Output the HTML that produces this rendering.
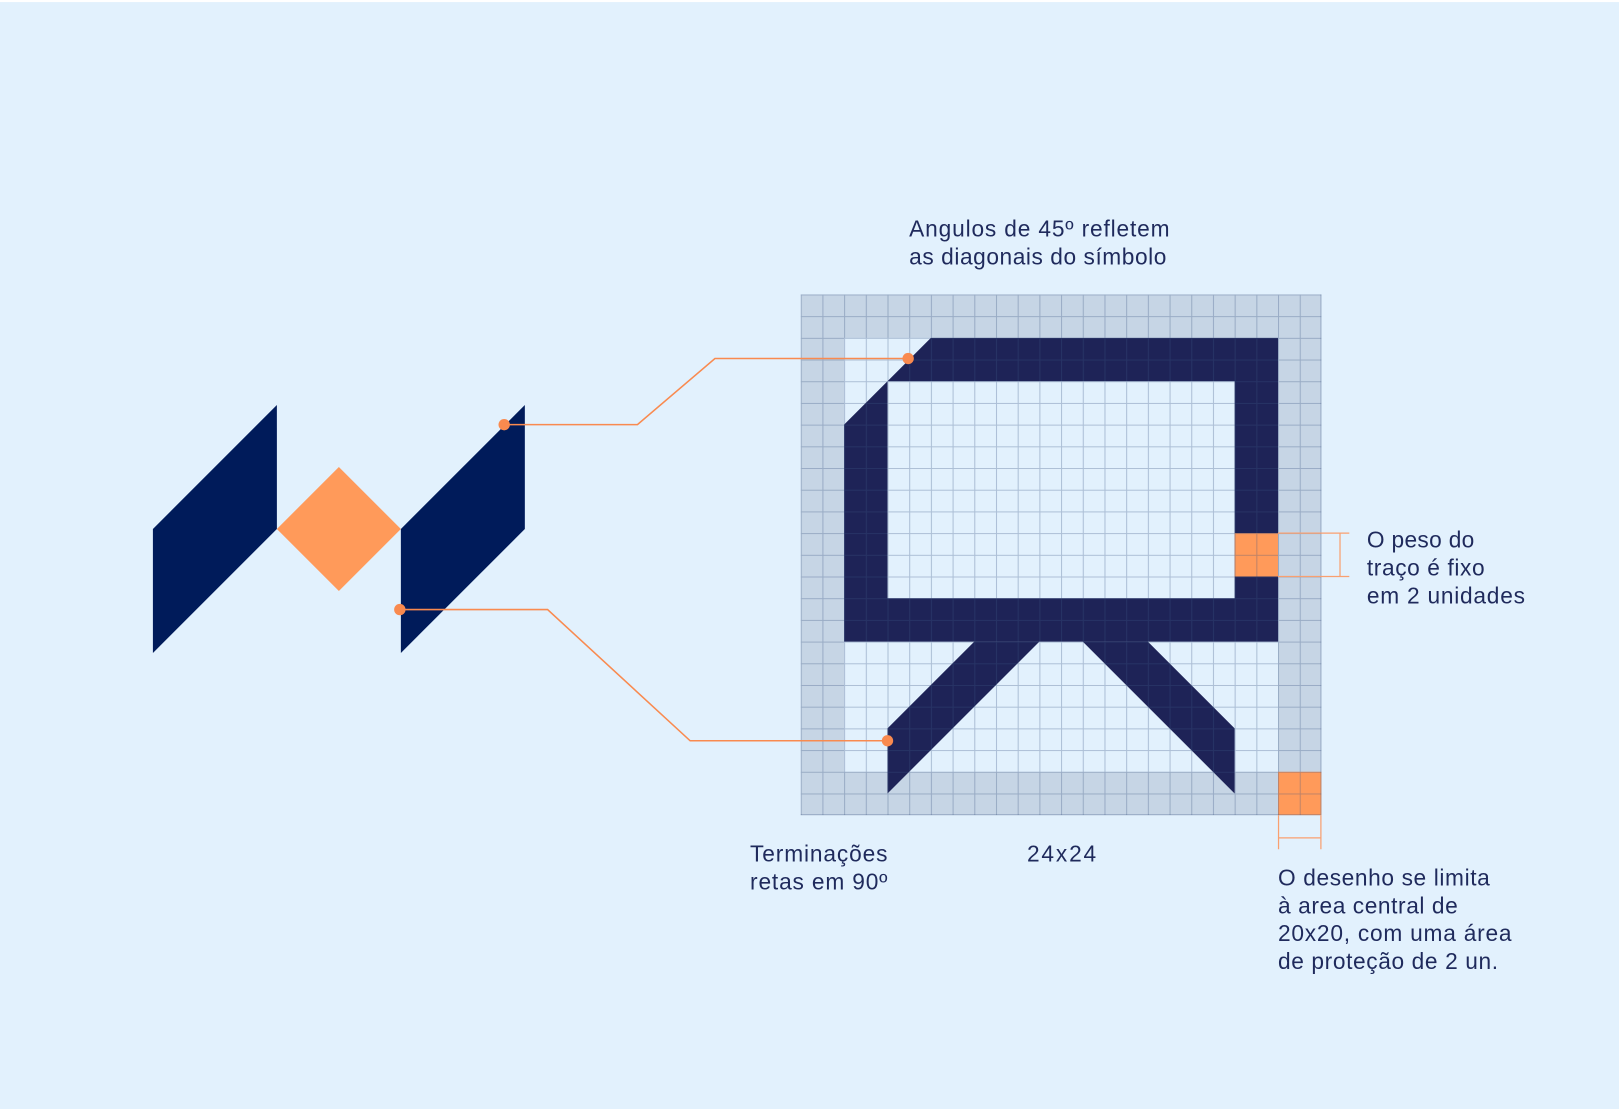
<!DOCTYPE html>
<html><head><meta charset="utf-8"><style>
html,body{margin:0;padding:0;background:#fff;}
svg{display:block;}
text{font-family:"Liberation Sans",sans-serif;font-size:22px;fill:#1f2a5c;}
</style></head><body>
<svg width="1620" height="1109" viewBox="0 0 1568 1073.4" preserveAspectRatio="none" xmlns="http://www.w3.org/2000/svg">
<defs>
<pattern id="g" x="775" y="285" width="21" height="21" patternUnits="userSpaceOnUse">
<path d="M0 0.5H21M0.5 0V21" stroke="rgba(60,85,130,0.32)" stroke-width="1" fill="none"/>
</pattern>
</defs>
<rect x="0" y="2" width="1567" height="1072" fill="#e2f1fd"/>
<rect x="775" y="285" width="504" height="504" fill="#c6d5e5"/>
<rect x="817" y="327" width="420" height="420" fill="#e2f1fd"/>
<path fill-rule="evenodd" fill="#1e2357" d="M901 327H1237V621H817V411Z M859 369V579H1195V369Z"/>
<path fill="#1e2357" d="M1006 621L859 768V705L943 621Z"/>
<path fill="#1e2357" d="M1048 621L1195 768V705L1111 621Z"/>
<rect x="1195" y="516" width="42" height="42" fill="#ff9a5a"/>
<rect x="1237" y="747" width="42" height="42" fill="#ff9a5a"/>
<rect x="775" y="285" width="504" height="504" fill="url(#g)"/>
<path d="M1278.5 285V789M775 788.5H1279" stroke="rgba(60,85,130,0.32)" stroke-width="1"/>
<g stroke="#f9a070" stroke-width="1.2" fill="none">
<path d="M1237 516H1306M1237 558H1306M1297 516V558"/>
<path d="M1237.5 789V822M1278.5 789V822M1237 811H1279"/>
</g>
<path fill="#001b5a" d="M148 512L268 392V512L148 632Z"/>
<path fill="#ff9a5a" d="M268 512L328 452L388 512L328 572Z"/>
<path fill="#001b5a" d="M388 512L508 392V512L388 632Z"/>
<g stroke="#f98a4f" stroke-width="1.5" fill="none">
<path d="M488 411H617L692 347H879"/>
<path d="M387 590H530L668 717H859"/>
</g>
<g fill="#f98a4f">
<circle cx="488" cy="411" r="5.5"/><circle cx="879" cy="347" r="5.5"/>
<circle cx="387" cy="590" r="5.5"/><circle cx="859" cy="717" r="5.5"/>
</g>
<text x="880" y="229" textLength="252" lengthAdjust="spacing">Angulos de 45º refletem</text>
<text x="880" y="256" textLength="249" lengthAdjust="spacing">as diagonais do símbolo</text>
<text x="1323" y="530" textLength="104" lengthAdjust="spacing">O peso do</text>
<text x="1323" y="557" textLength="114" lengthAdjust="spacing">traço é fixo</text>
<text x="1323" y="584" textLength="153" lengthAdjust="spacing">em 2 unidades</text>
<text x="726" y="834" textLength="133" lengthAdjust="spacing">Terminações</text>
<text x="726" y="861" textLength="133" lengthAdjust="spacing">retas em 90º</text>
<text x="994" y="834" textLength="67" lengthAdjust="spacing">24x24</text>
<text x="1237" y="857" textLength="205" lengthAdjust="spacing">O desenho se limita</text>
<text x="1237" y="884" textLength="174" lengthAdjust="spacing">à area central de</text>
<text x="1237" y="911" textLength="226" lengthAdjust="spacing">20x20, com uma área</text>
<text x="1237" y="938" textLength="213" lengthAdjust="spacing">de proteção de 2 un.</text>
</svg>
</body></html>
